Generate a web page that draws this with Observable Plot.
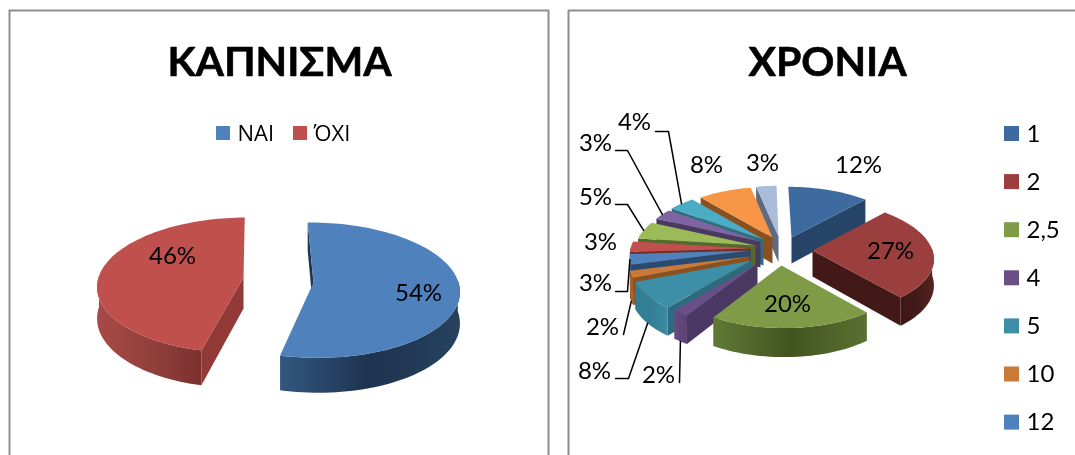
<!DOCTYPE html>
<html>
<head>
<meta charset="utf-8">
<script src="https://cdn.jsdelivr.net/npm/d3@7"></script>
<script src="https://cdn.jsdelivr.net/npm/@observablehq/plot@0.6"></script>
<style>
html,body{margin:0;padding:0;background:#fff;overflow:hidden}
svg{display:block;filter:blur(0.45px)}
</style>
</head>
<body>
<div id="chart"></div>
<script>
// ---- data ----
const smokeTitle = "ΚΑΠΝΙΣΜΑ";
const smokeCategories = ["ΝΑΙ", "ΌΧΙ"];
const smokeValues = [54, 46];
const yearsTitle = "ΧΡΟΝΙΑ";
const yearsCategories = ["1", "2", "2,5", "4", "5", "10", "12"];
const yearsValues = [12, 27, 20, 2, 8, 2, 3, 3, 5, 3, 4, 8, 3];

// ---- colours ----
const smokeTop = ["#4f81bd", "#c0504d"];
const smokeRim = [["#33577f", "#1e334f", "#26425f"], ["#a84a47", "#93403d", "#7c302e"]];
const smokeCut = ["#1f3551", "#913a38"];
const yearsTop = ["#3e6b9f", "#9b3f3e", "#7f9b48", "#6a4f87", "#3c8fa6", "#c97a38", "#4f81bd", "#c0504d", "#9bbb59", "#8064a2", "#4bacc6", "#f79646", "#a9bcd9"];
const yearsRim = [
  ["#264569", "#264569", "#264569"], ["#3e1816", "#441a18", "#552220"], ["#5f7a35", "#42541f", "#5a7030"],
  ["#654a82", "#5f4779", "#5a4272"], ["#2f7d94", "#357f95", "#3a8aa1"], ["#a8602a", "#a8602a", "#a8602a"],
  ["#3a618e", "#3a618e", "#3a618e"], ["#8a3a38", "#8a3a38", "#8a3a38"], ["#6f8a3e", "#6f8a3e", "#6f8a3e"],
  ["#5a4672", "#5a4672", "#5a4672"], ["#34798c", "#34798c", "#34798c"], ["#8f5420", "#8f5420", "#8f5420"], ["#5d6a80", "#5d6a80", "#5d6a80"]
];
const yearsCut = ["#254468", "#421917", "#42541f", "#4a3762", "#2c6a7d", "#8a5020", "#2b4a70", "#6e2c2a", "#55692e", "#4a3a60", "#2f6d80", "#8a5020", "#5d6a80"];

// ---- 3-D pie geometry (layout, not data) ----
const smokePie = {a: 145, b: 66.8, p: 0.113, depth: 31, xv: 278, rot: -1, apex: [[313, 282], [243, 277]]};
const yearsPie = {a: 120, b: 56, p: 0.105, depth: 26, xv: 757, rot: 0, apex: [[791, 237], [812, 250], [781, 265], [757, 263], [751, 260], [749, 256], [750, 250], [750, 248], [755, 245], [760, 241], [763, 239], [772, 237], [778, 236]]};

const rad = Math.PI / 180;
function rimPoint(pie, i, deg, down = 0) {
  const [ax, ay] = pie.apex[i];
  const u = Math.sin(deg * rad), v = Math.cos(deg * rad);
  const s = 1 / (1 + pie.p * v);
  return {
    x: ax + (ax - pie.xv) * (s - 1) + pie.a * u * s,
    y: ay - pie.b * v * s + down * pie.depth * s,
    s, v
  };
}
function angles(values, rot) {
  const total = d3.sum(values);
  let acc = 0;
  return values.map((d) => {
    const t0 = rot + acc / total * 360;
    acc += d;
    return [t0, rot + acc / total * 360];
  });
}
function sampleAngles(t0, t1) {
  const out = [];
  const n = Math.max(2, Math.ceil(Math.abs(t1 - t0) / 2));
  for (let k = 0; k <= n; ++k) out.push(t0 + (t1 - t0) * k / n);
  return out;
}
let gradientId = 0;
const gradients = [];
function pieMarks(pie, values, top, rim, cut) {
  const ang = angles(values, pie.rot);
  const order = d3.range(values.length).sort((i, j) =>
    Math.cos((ang[j][0] + ang[j][1]) / 2 * rad) - Math.cos((ang[i][0] + ang[i][1]) / 2 * rad)
  );
  const marks = [];
  const poly = (pts, fill) => marks.push(Plot.line([...pts, pts[0]], {x: "x", y: "y", fill, stroke: "none", curve: "linear"}));
  for (const i of order) {
    const [t0, t1] = ang[i];
    const [ax, ay] = pie.apex[i];
    const apexTop = {x: ax, y: ay}, apexLow = {x: ax, y: ay + pie.depth};
    if (Math.sin(t0 * rad) < 0) {
      poly([apexTop, rimPoint(pie, i, t0), rimPoint(pie, i, t0, 1), apexLow], cut[i]);
    }
    if (Math.sin(t1 * rad) > 0) {
      poly([apexTop, rimPoint(pie, i, t1), rimPoint(pie, i, t1, 1), apexLow], cut[i]);
    }
    const vis = sampleAngles(t0, t1).filter((t) => Math.cos(t * rad) < 0.05);
    if (vis.length > 1) {
      const id = `rim${gradientId++}`;
      gradients.push({id, stops: rim[i]});
      poly([...vis.map((t) => rimPoint(pie, i, t)), ...vis.slice().reverse().map((t) => rimPoint(pie, i, t, 1))], `url(#${id})`);
    }
    poly([apexTop, ...sampleAngles(t0, t1).map((t) => rimPoint(pie, i, t))], top[i]);
  }
  return marks;
}

const smokeMarks = pieMarks(smokePie, smokeValues, smokeTop, smokeRim, smokeCut);
const yearsMarks = pieMarks(yearsPie, yearsValues, yearsTop, yearsRim, yearsCut);

// ---- labels ----
const pct = (d) => d + "%";
const smokeLabelPos = [[418, 293], [172, 256]];
const yearsLabelPos = [[858, 165], [890, 251], [787, 304], [658, 375], [594, 371], [602, 327], [595, 283], [600, 242], [595, 197], [595, 143], [634, 122], [706, 165], [762, 163]];
const labels = [
  ...smokeValues.map((d, i) => ({t: pct(d), x: smokeLabelPos[i][0], y: smokeLabelPos[i][1]})),
  ...yearsValues.map((d, i) => ({t: pct(d), x: yearsLabelPos[i][0], y: yearsLabelPos[i][1]}))
];

const yearsLeaderStart = {3: [[679, 382]], 4: [[615, 378], [628, 378]], 5: [[623, 334]], 6: [[615, 291], [627, 291]], 8: [[615, 204], [627, 204]], 9: [[615, 150], [627, 150]], 10: [[655, 131], [668, 131]]};
const yearsAng = angles(yearsValues, yearsPie.rot);
const leaders = Object.entries(yearsLeaderStart).flatMap(([k, start]) => {
  const i = +k;
  const mid = (yearsAng[i][0] + yearsAng[i][1]) / 2;
  const front = Math.cos(mid * rad) < -0.2;
  const end = rimPoint(yearsPie, i, mid, front ? 1 : 0);
  return [...start.map(([x, y]) => ({x, y})), {x: end.x, y: end.y}].map((p) => ({...p, z: i}));
});

// ---- legends ----
const legendSwatches = [
  {x1: 216, x2: 230, y1: 126, y2: 140, fill: smokeTop[0]},
  {x1: 293, x2: 307, y1: 126, y2: 140, fill: smokeTop[1]},
  ...yearsCategories.map((c, i) => ({x1: 1004, x2: 1019, y1: 126 + i * 48.1, y2: 141 + i * 48.1, fill: yearsTop[i]}))
];
const smokeLegendText = [
  {t: smokeCategories[0], x: 237, y: 133},
  {t: smokeCategories[1], x: 313, y: 133}
];
const yearsLegendText = yearsCategories.map((c, i) => ({t: c, x: 1026, y: 133.5 + i * 48.1}));

// ---- panel borders ----
const panels = [
  [{x: 9, y: 455}, {x: 9, y: 10}, {x: 548, y: 10}, {x: 548, y: 455}],
  [{x: 568, y: 455}, {x: 568, y: 10}, {x: 1075, y: 10}]
];

const font = "Lato, 'Noto Sans', sans-serif";
const defsMark = () => {
  const defs = d3.create("svg:defs");
  for (const g of gradients) {
    const lg = defs.append("linearGradient").attr("id", g.id).attr("x1", 0).attr("x2", 1).attr("y1", 0).attr("y2", 0);
    g.stops.forEach((c, k) => lg.append("stop").attr("offset", k / (g.stops.length - 1)).attr("stop-color", c));
  }
  return defs.node();
};

const chart = Plot.plot({
  width: 1075,
  height: 455,
  margin: 0,
  style: {background: "#fff"},
  x: {type: "identity", axis: null},
  y: {type: "identity", axis: null},
  marks: [
    defsMark,
    ...panels.map((p) => Plot.line(p, {x: "x", y: "y", stroke: "#8e8e8e", strokeWidth: 2})),
    ...smokeMarks,
    ...yearsMarks,
    Plot.line(leaders, {x: "x", y: "y", z: "z", stroke: "#000", strokeWidth: 1.5, curve: "linear"}),
    Plot.rect(legendSwatches, {x1: "x1", x2: "x2", y1: "y1", y2: "y2", fill: "fill"}),
    Plot.text(smokeLegendText, {x: "x", y: "y", text: "t", textAnchor: "start", fontSize: 22, fontFamily: "'Open Sans', sans-serif", fill: "#000"}),
    Plot.text(yearsLegendText, {x: "x", y: "y", text: "t", textAnchor: "start", fontSize: 24, fontFamily: font, fill: "#000"}),
    Plot.text(labels, {x: "x", y: "y", text: "t", fontSize: 24, fontFamily: font, fill: "#000"}),
    Plot.text([{t: smokeTitle, x: 279, y: 62}, {t: yearsTitle, x: 827, y: 62}], {x: "x", y: "y", text: "t", fontSize: 41, fontWeight: "bold", fontFamily: font, fill: "#000", stroke: "#000", strokeWidth: 0.6})
  ]
});
document.getElementById("chart").append(chart);
</script>
</body>
</html>
